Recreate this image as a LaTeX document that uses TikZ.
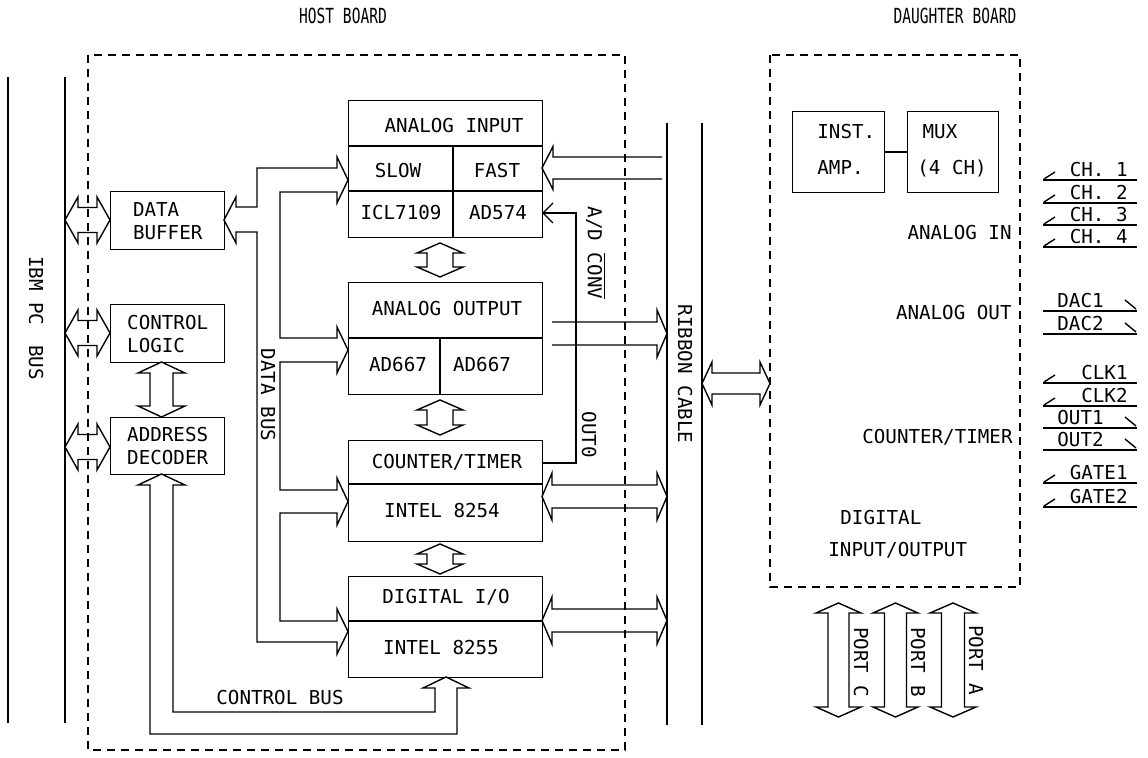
\documentclass[tikz,border=0pt]{standalone}
\usepackage{fontspec}
\newfontfamily\plt{DejaVu Sans Mono}
\newfontfamily\pltn[FakeStretch=0.7]{DejaVu Sans Mono}
% horizontal double hollow arrow: x1 x2 yc S H L
\newcommand{\hdbl}[6]{\draw[ln] (#1,#3) -- ({#1+#6},{#3-#5}) -- ({#1+#6},{#3-#4}) -- ({#2-#6},{#3-#4}) -- ({#2-#6},{#3-#5}) -- (#2,#3) -- ({#2-#6},{#3+#5}) -- ({#2-#6},{#3+#4}) -- ({#1+#6},{#3+#4}) -- ({#1+#6},{#3+#5}) -- cycle;}
% vertical double hollow arrow: xc y1 y2 S H L
\newcommand{\vdbl}[6]{\draw[ln] (#1,#2) -- ({#1+#5},{#2+#6}) -- ({#1+#4},{#2+#6}) -- ({#1+#4},{#3-#6}) -- ({#1+#5},{#3-#6}) -- (#1,#3) -- ({#1-#5},{#3-#6}) -- ({#1-#4},{#3-#6}) -- ({#1-#4},{#2+#6}) -- ({#1-#5},{#2+#6}) -- cycle;}
% horizontal single hollow arrow: xtail xtip yc S H L(signed)
\newcommand{\hsgl}[6]{\draw[ln] (#1,{#3-#4}) -- ({#2-(#6)},{#3-#4}) -- ({#2-(#6)},{#3-#5}) -- (#2,#3) -- ({#2-(#6)},{#3+#5}) -- ({#2-(#6)},{#3+#4}) -- (#1,{#3+#4});}
% box: name x y w h text
\newcommand{\pbox}[6]{\node[box, align=left, minimum width=#4*0.5pt, minimum height=#5*0.5pt, anchor=north west] (#1) at (#2,#3) {#6};}
% input / output signal lines
\newcommand{\sigin}[3]{\draw[ln] (1043,#2) -- (1137,#2); \draw[ln] (1044,{#2-1}) -- (1055,{#2-8});
  \node[anchor=south east] (#1) at (1128,{#2-3}) {#3};}
\newcommand{\sigout}[3]{\draw[ln] (1043,#2) -- (1137,#2); \draw[ln] (1125,{#2-11}) -- (1136,{#2-2});
  \node[anchor=south west] (#1) at (1057,{#2-3}) {#3};}
\begin{document}
\begin{tikzpicture}[x=0.5pt,y=-0.5pt,
  ln/.style={line width=0.7pt, line join=miter},
  box/.style={draw, line width=0.7pt},
  dsh/.style={line width=0.7pt, dash pattern=on 4pt off 3pt},
  ttl/.style={font=\pltn\fontsize{10.4pt}{12pt}\selectfont},
  every node/.style={font=\plt\fontsize{9.6pt}{11.5pt}\selectfont, inner sep=0pt}]
\useasboundingbox (0,0) rectangle (1148,758);

% titles
\node[ttl] (thost) at (343,16) {HOST BOARD};
\node[ttl] (tdau) at (955,16) {DAUGHTER BOARD};

% board outlines
\draw[dsh] (88,55) rectangle (625,750);
\draw[dsh] (770,55) rectangle (1020,587);

% IBM PC bus
\draw[ln] (8,77) -- (8,723);
\draw[ln] (65,77) -- (65,723);
\node[rotate=-90] (tibm) at (36,318) {IBM PC\hspace{4pt} BUS};

% ribbon cable
\draw[ln] (667,123) -- (667,725);
\draw[ln] (702,123) -- (702,725);
\node[rotate=-90] (trib) at (685,374) {RIBBON CABLE};

% left boxes
\pbox{buf}{110}{191}{114}{58}{DATA\\BUFFER}
\pbox{ctl}{110}{304}{114}{58}{CONTROL\\LOGIC}
\pbox{adr}{110}{417}{114}{57}{ADDRESS\\DECODER}

% IBM bus arrows
\hdbl{65}{110}{220}{12.5}{23}{13}
\hdbl{65}{110}{333}{12.5}{23}{13}
\hdbl{65}{110}{447}{12.5}{23}{13}
\vdbl{161.5}{362}{417}{11.5}{23.5}{11}

% module boxes
\pbox{ai}{348}{100}{194}{137}{}
\pbox{ao}{348}{282}{194}{112}{}
\pbox{ct}{348}{440}{194}{101}{}
\pbox{dio}{348}{576}{194}{101}{}
\draw[ln] (348,146) -- (542,146);
\draw[ln] (348,191) -- (542,191);
\draw[ln] (453,146) -- (453,237);
\draw[ln] (348,338) -- (542,338);
\draw[ln] (440,338) -- (440,394);
\draw[ln] (348,484) -- (542,484);
\draw[ln] (348,621) -- (542,621);

\node (tai) at (454,126) {ANALOG INPUT};
\node (tslow) at (398,171) {SLOW};
\node (tfast) at (497,171) {FAST};
\node (ticl) at (401,213) {ICL7109};
\node (tad574) at (498,213) {AD574};
\node (tao) at (447,309) {ANALOG OUTPUT};
\node (tda1) at (398,365) {AD667};
\node (tda2) at (482,365) {AD667};
\node (tct) at (447,462) {COUNTER/TIMER};
\node (t8254) at (442,511) {INTEL 8254};
\node (tdio) at (446,597) {DIGITAL I/O};
\node (t8255) at (441,648) {INTEL 8255};

% inter-module arrows
\vdbl{440}{243}{277}{13}{23}{10}
\vdbl{440}{400}{435}{13}{23}{10}
\vdbl{440}{544}{574}{13}{23}{10}

% data bus
\draw[ln] (236,207) -- (257,207) -- (257,168) -- (337,168) -- (337,157) -- (348,180) -- (337,203) -- (337,192) -- (280,192)
  -- (280,338) -- (337,338) -- (337,327) -- (348,350) -- (337,373) -- (337,362) -- (280,362)
  -- (280,490) -- (337,490) -- (337,478) -- (348,501.5) -- (337,525) -- (337,513) -- (280,513)
  -- (280,621) -- (337,621) -- (337,609) -- (348,631.5) -- (337,654) -- (337,642) -- (257,642)
  -- (257,232) -- (236,232) -- (236,243) -- (224,220) -- (236,197) -- cycle;
\node[rotate=-90] (tdb) at (268,395) {DATA BUS};

% control bus
\draw[ln] (150,734) -- (150,485) -- (138,485) -- (161.5,474) -- (185,485) -- (173,485) -- (173,712) -- (435,712)
  -- (435,688) -- (423,688) -- (446,677) -- (469,688) -- (457,688) -- (457,734) -- cycle;
\node (tcb) at (280,698) {CONTROL BUS};

% A/D convert and OUT0
\draw[ln] (553,203) -- (543,213) -- (553,223);
\draw[ln] (543,213) -- (576,213) -- (576,463) -- (542,463);
\node[rotate=-90] (tadc) at (596,253) {A/D $\overline{\hbox{CONV}}$};
\node[rotate=-90] (tout0) at (589,435) {OUT0};

% connections to ribbon cable
\hsgl{662}{542}{168}{11}{21.5}{-11}
\hsgl{552}{667}{333.5}{11.5}{23.5}{10}
\hdbl{542}{667}{496.5}{11.5}{23.5}{10}
\hdbl{542}{667}{620.5}{11.5}{23.5}{10}
\hdbl{702}{770}{383.5}{10.5}{21.5}{10}

% daughter board
\pbox{amp}{792}{111}{92}{81}{}
\pbox{mux}{907}{111}{91}{81}{}
\draw[ln] (amp.east) -- (mux.west);
\node[anchor=west] (tinst) at (817,132) {INST.};
\node[anchor=west] (tamp) at (817,168) {AMP.};
\node (tmux) at (940,132) {MUX};
\node (t4ch) at (952,168) {(4 CH)};
\node[anchor=east] (tain) at (1012,233) {ANALOG IN};
\node[anchor=east] (taout) at (1012,313) {ANALOG OUT};
\node[anchor=east] (tcnt) at (1013,437) {COUNTER/TIMER};
\node[anchor=west] (tdig) at (840,518) {DIGITAL};
\node[anchor=west] (tdio2) at (828,550) {INPUT/OUTPUT};

% signal lines
\sigin{sch1}{180}{CH. 1}
\sigin{sch2}{203}{CH. 2}
\sigin{sch3}{225}{CH. 3}
\sigin{sch4}{247}{CH. 4}
\sigout{sdac1}{311}{DAC1}
\sigout{sdac2}{334}{DAC2}
\sigin{sclk1}{383}{CLK1}
\sigin{sclk2}{406}{CLK2}
\sigout{sout1}{428}{OUT1}
\sigout{sout2}{450}{OUT2}
\sigin{sgate1}{483}{GATE1}
\sigin{sgate2}{507}{GATE2}

% ports
\vdbl{838.5}{603}{717}{10.5}{22.5}{10}
\vdbl{895.5}{603}{717}{11}{22.5}{10}
\vdbl{953}{603}{717}{11.5}{23}{10}
\node[rotate=-90] (tpc) at (861,662) {PORT C};
\node[rotate=-90] (tpb) at (918,662) {PORT B};
\node[rotate=-90] (tpa) at (976,660) {PORT A};
\end{tikzpicture}
\end{document}
